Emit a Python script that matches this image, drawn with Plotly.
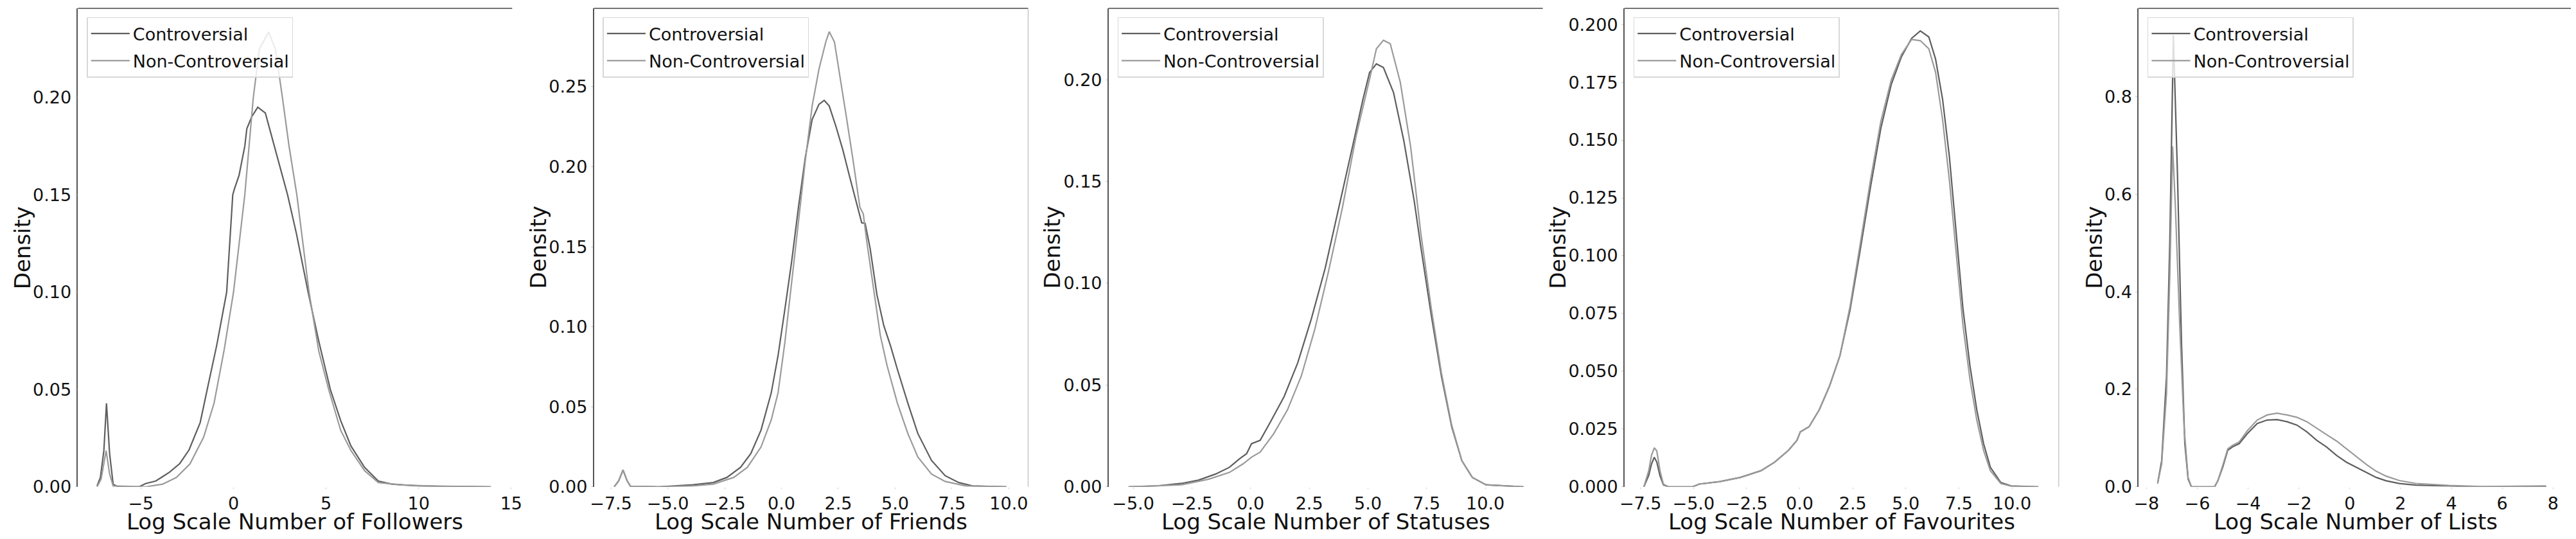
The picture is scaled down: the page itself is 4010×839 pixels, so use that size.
import plotly.graph_objects as go

# Log-scaled user attribute densities
FOLLOWERS_X_C = [-7.37, -7.19, -7.0, -6.86, -6.69, -6.5, -6.23, -5.1, -4.75, -4.2, -3.46, -2.9, -2.4,
                 -1.8, -1.42, -0.9, -0.37, -0.04, 0.05, 0.3, 0.61, 0.72, 0.98, 1.31, 1.72, 2.09, 2.5,
                 2.92, 3.4, 4.03, 4.6, 5.23, 5.79, 6.34, 7.08, 7.82, 8.56, 10.0, 13.9]
FOLLOWERS_Y_C = [0.0005, 0.0048, 0.0187, 0.0429, 0.017, 0.0014, 0, 0, 0.0017, 0.003, 0.0075, 0.012,
                 0.019, 0.033, 0.05, 0.073, 0.10, 0.15, 0.153, 0.16, 0.175, 0.184, 0.19, 0.195, 0.192,
                 0.179, 0.164, 0.15, 0.13, 0.10, 0.075, 0.05, 0.034, 0.021, 0.01, 0.003, 0.0014, 0.0005, 0]
FOLLOWERS_X_N = [-7.37, -7.15, -6.88, -6.69, -6.5, -4.75, -3.83, -3.09, -2.35, -1.61, -1.05, -0.5, 0.0,
                 0.3, 0.61, 1.07, 1.4, 1.9, 2.27, 2.64, 3.0, 3.42, 4.08, 4.6, 5.14, 5.79, 6.34, 7.08,
                 7.82, 9.1, 10.96, 13.9]
FOLLOWERS_Y_N = [0, 0.004, 0.0186, 0.0066, 0.0005, 0, 0.0014, 0.0048, 0.0118, 0.0256, 0.043, 0.0706,
                 0.10, 0.125, 0.15, 0.20, 0.225, 0.2336, 0.2246, 0.20, 0.175, 0.15, 0.10, 0.07, 0.05,
                 0.029, 0.0187, 0.0083, 0.0022, 0.001, 0.0003, 0]

FRIENDS_X_C = [-7.36, -7.16, -6.97, -6.79, -6.64, -5.4, -3.9, -3.0, -2.4, -1.8, -1.35, -0.9, -0.45,
               -0.15, 0.15, 0.45, 0.75, 1.05, 1.35, 1.65, 1.88, 2.1, 2.4, 2.7, 3.0, 3.3, 3.53, 3.68,
               3.9, 4.2, 4.5, 4.8, 5.1, 5.56, 6.0, 6.6, 7.2, 7.8, 8.4, 9.9]
FRIENDS_Y_C = [0, 0.0038, 0.0105, 0.0038, 0.0004, 0, 0.0013, 0.0027, 0.0059, 0.0122, 0.0207, 0.0354,
               0.0587, 0.082, 0.111, 0.141, 0.175, 0.206, 0.2295, 0.239, 0.2415, 0.238, 0.225, 0.2105,
               0.1937, 0.1768, 0.165, 0.1646, 0.149, 0.12, 0.1008, 0.088, 0.0734, 0.0523, 0.0333,
               0.0165, 0.007, 0.0027, 0.0006, 0]
FRIENDS_X_N = [-7.36, -7.16, -6.97, -6.79, -6.64, -5.4, -3.9, -3.0, -2.1, -1.5, -0.9, -0.45, -0.15,
               0.15, 0.45, 0.75, 1.05, 1.35, 1.65, 1.95, 2.1, 2.33, 2.55, 2.85, 3.15, 3.45, 3.6, 3.75,
               4.05, 4.35, 4.65, 5.1, 5.56, 6.0, 6.6, 7.2, 8.1, 9.9]
FRIENDS_Y_N = [0, 0.0038, 0.0105, 0.0038, 0.0004, 0, 0.0006, 0.0017, 0.0059, 0.0122, 0.0249, 0.0418,
               0.0587, 0.0903, 0.128, 0.166, 0.204, 0.238, 0.261, 0.278, 0.2844, 0.278, 0.259, 0.2316,
               0.204, 0.1747, 0.1705, 0.1536, 0.124, 0.0945, 0.0755, 0.0523, 0.0333, 0.0186, 0.008,
               0.0034, 0.0006, 0]

STATUSES_X_C = [-5.2, -3.97, -2.94, -2.22, -1.49, -0.9, -0.47, -0.17, 0.04, 0.41, 0.85, 1.43, 2.01,
                2.59, 3.18, 3.76, 4.34, 4.78, 5.07, 5.36, 5.66, 6.09, 6.53, 6.97, 7.26, 7.7, 8.13,
                8.57, 9.0, 9.45, 10.03, 11.63]
STATUSES_Y_C = [0, 0.0005, 0.0017, 0.0033, 0.0063, 0.0096, 0.0138, 0.0163, 0.0212, 0.0229, 0.032,
                0.0444, 0.061, 0.0826, 0.1075, 0.137, 0.167, 0.19, 0.2036, 0.2078, 0.206, 0.1937,
                0.17, 0.1406, 0.1174, 0.0842, 0.0544, 0.0295, 0.0129, 0.0046, 0.001, 0]
STATUSES_X_N = [-5.2, -2.94, -1.78, -0.9, -0.32, 0.04, 0.41, 0.99, 1.57, 2.16, 2.74, 3.32, 3.91,
                4.49, 5.07, 5.36, 5.66, 5.95, 6.38, 6.82, 7.26, 7.7, 8.13, 8.57, 9.0, 9.45, 10.03, 11.63]
STATUSES_Y_N = [0, 0.001, 0.0038, 0.0071, 0.0113, 0.0146, 0.0171, 0.0262, 0.0378, 0.0544, 0.0776,
                0.1058, 0.137, 0.172, 0.2003, 0.2152, 0.2194, 0.2177, 0.1987, 0.167, 0.124, 0.0876,
                0.056, 0.0303, 0.0129, 0.0046, 0.001, 0]

FAVOURITES_X = [-7.34, -7.11, -6.98, -6.85, -6.73, -6.58, -6.42, -6.18, -5.05, -4.73, -3.76, -2.79,
                -1.82, -1.18, -0.53, -0.13, 0.03, 0.44, 0.92, 1.4, 1.89, 2.37, 2.85, 3.34, 3.82, 4.31,
                4.79, 5.27, 5.68, 6.08, 6.4, 6.73, 7.05, 7.37, 7.69, 8.02, 8.34, 8.66, 8.98, 9.47,
                9.95, 11.24]
FAVOURITES_Y_C = [0, 0.005, 0.0099, 0.0128, 0.0107, 0.0048, 0.0009, 0, 0, 0.0012, 0.0023, 0.0041,
                  0.007, 0.0107, 0.0158, 0.0201, 0.0238, 0.026, 0.0333, 0.0435, 0.0566, 0.0765,
                  0.1025, 0.13, 0.155, 0.174, 0.186, 0.194, 0.1972, 0.1946, 0.185, 0.1676, 0.1428,
                  0.109, 0.077, 0.0523, 0.0333, 0.0187, 0.0085, 0.0019, 0.0004, 0]
FAVOURITES_Y_N = [0, 0.007, 0.0136, 0.0169, 0.0155, 0.007, 0.0012, 0, 0, 0.0012, 0.0023, 0.0041,
                  0.007, 0.0107, 0.0158, 0.0201, 0.0238, 0.026, 0.0333, 0.0435, 0.0566, 0.078,
                  0.105, 0.133, 0.158, 0.176, 0.187, 0.1935, 0.193, 0.1895, 0.1793, 0.1588, 0.1326,
                  0.1004, 0.0698, 0.0464, 0.0289, 0.0158, 0.007, 0.0015, 0.0003, 0]

LISTS_X_C = [-7.56, -7.4, -7.21, -7.08, -6.94, -6.78, -6.62, -6.49, -6.36, -6.23, -5.32, -5.19, -5.0,
             -4.8, -4.61, -4.35, -4.03, -3.64, -3.25, -2.86, -2.47, -2.08, -1.69, -1.3, -0.91, -0.52,
             -0.13, 0.26, 0.65, 1.04, 1.43, 1.95, 2.6, 3.9, 5.19, 7.73]
LISTS_Y_C = [0.007, 0.054, 0.227, 0.504, 0.926, 0.642, 0.296, 0.0886, 0.016, 0, 0, 0.0125, 0.04,
             0.075, 0.082, 0.0886, 0.109, 0.13, 0.137, 0.138, 0.1336, 0.1266, 0.1128, 0.0955, 0.0817,
             0.0644, 0.0505, 0.0401, 0.0298, 0.0194, 0.0125, 0.0069, 0.0035, 0.0014, 0.0, 0]
LISTS_X_N = [-7.56, -7.4, -7.21, -7.08, -6.97, -6.86, -6.69, -6.52, -6.36, -6.23, -5.32, -5.19, -5.0,
             -4.8, -4.61, -4.35, -4.03, -3.64, -3.25, -2.86, -2.47, -2.08, -1.69, -1.3, -0.91, -0.52,
             -0.13, 0.26, 0.65, 1.04, 1.43, 1.95, 2.6, 3.9, 5.19, 7.73]
LISTS_Y_N = [0.007, 0.047, 0.192, 0.435, 0.698, 0.573, 0.331, 0.123, 0.019, 0, 0, 0.0125, 0.0436,
             0.078, 0.085, 0.092, 0.115, 0.137, 0.1474, 0.151, 0.1474, 0.1426, 0.1336, 0.1197, 0.107,
             0.094, 0.078, 0.062, 0.046, 0.032, 0.022, 0.013, 0.007, 0.0028, 0.0007, 0.002]

X_TITLES = ["Log Scale Number of Followers", "Log Scale Number of Friends",
            "Log Scale Number of Statuses", "Log Scale Number of Favourites",
            "Log Scale Number of Lists"]
SERIES_NAMES = ["Controversial", "Non-Controversial"]

panels = [
    (FOLLOWERS_X_C, FOLLOWERS_Y_C, FOLLOWERS_X_N, FOLLOWERS_Y_N),
    (FRIENDS_X_C, FRIENDS_Y_C, FRIENDS_X_N, FRIENDS_Y_N),
    (STATUSES_X_C, STATUSES_Y_C, STATUSES_X_N, STATUSES_Y_N),
    (FAVOURITES_X, FAVOURITES_Y_C, FAVOURITES_X, FAVOURITES_Y_N),
    (LISTS_X_C, LISTS_Y_C, LISTS_X_N, LISTS_Y_N),
]

# layout in pixels of the 4010x839 page
W, H = 4010, 839
LEFTS = [106, 914, 1720, 2528, 3333]
RIGHTS = [786, 1594, 2400, 3208, 4010]
TOP, BOTTOM = 5, 763.5
X_RANGES = [[-8.4, 15.05], [-8.25, 10.85], [-6.05, 12.45], [-8.25, 12.2], [-8.31, 8.7]]
Y_RANGES = [[0, 0.2458], [0, 0.299], [0, 0.2351], [0, 0.207], [0, 0.981]]
X_DTICK = [5, 2.5, 2.5, 2.5, 2]
X_FMT = ["d", ".1f", ".1f", ".1f", "d"]
Y_DTICK = [0.05, 0.05, 0.05, 0.025, 0.2]
Y_FMT = [".2f", ".2f", ".2f", ".3f", ".1f"]
DENSITY_OFFSET = [87, 87, 88, 104, 69]
RIGHT_SPINE = [False, True, False, True, False]

DARK = "#5e5e5e"
LIGHT = "#9a9a9a"
FONT = "DejaVu Sans"

fig = go.Figure()
shapes = []
annotations = []

for i, (xc, yc, xn, yn) in enumerate(panels):
    n = "" if i == 0 else str(i + 1)
    leg = "legend" + n
    fig.add_trace(go.Scatter(x=xc, y=yc, mode="lines", name=SERIES_NAMES[0],
                             line=dict(color=DARK, width=2.2), xaxis="x" + n, yaxis="y" + n,
                             legend=leg, legendgroup="c" + n))
    fig.add_trace(go.Scatter(x=xn, y=yn, mode="lines", name=SERIES_NAMES[1],
                             line=dict(color=LIGHT, width=2.2), xaxis="x" + n, yaxis="y" + n,
                             legend=leg, legendgroup="n" + n))

    xdom = [LEFTS[i] / W, RIGHTS[i] / W]
    ydom = [(H - BOTTOM) / H, (H - TOP) / H]
    fig.update_layout(**{
        "xaxis" + n: dict(domain=xdom, range=X_RANGES[i], anchor="y" + n, dtick=X_DTICK[i],
                          tick0=0, tickformat=X_FMT[i], showgrid=False, zeroline=False,
                          showline=False, ticks="outside", ticklen=2, tickcolor="#c8c8c8",
                          tickfont=dict(family=FONT, size=27, color="#111")),
        "yaxis" + n: dict(domain=ydom, range=Y_RANGES[i], anchor="x" + n, dtick=Y_DTICK[i],
                          tick0=0, tickformat=Y_FMT[i], showgrid=False, zeroline=False,
                          showline=True, linecolor="#555", linewidth=1.5, ticks="outside",
                          ticklen=3, tickcolor="#c8c8c8",
                          tickfont=dict(family=FONT, size=27, color="#111")),
        leg: dict(x=(LEFTS[i] + 14) / W, y=(H - 19) / H, xanchor="left", yanchor="top",
                  bgcolor="rgba(255,255,255,0.8)", bordercolor="#d8d8d8", borderwidth=1.5,
                  font=dict(family=FONT, size=27, color="#111"), itemwidth=60,
                  tracegroupgap=4),
    })

    # top spine, and faint right spine where the reference shows one
    shapes.append(dict(type="line", xref="x" + n + " domain", yref="y" + n + " domain",
                       x0=0, x1=1, y0=1, y1=1, line=dict(color="#444", width=1.5)))
    if RIGHT_SPINE[i]:
        shapes.append(dict(type="line", xref="x" + n + " domain", yref="y" + n + " domain",
                           x0=1, x1=1, y0=0, y1=1, line=dict(color="#bbb", width=1.2)))

    annotations.append(dict(text=X_TITLES[i], xref="paper", yref="paper",
                            x=(LEFTS[i] + 340) / W, y=(H - 819) / H, xanchor="center",
                            yanchor="middle", showarrow=False,
                            font=dict(family=FONT, size=34, color="#111")))
    annotations.append(dict(text="Density", xref="paper", yref="paper", textangle=-90,
                            x=(LEFTS[i] - DENSITY_OFFSET[i]) / W, y=(H - (TOP + BOTTOM) / 2) / H,
                            xanchor="center", yanchor="middle", showarrow=False,
                            font=dict(family=FONT, size=34, color="#111")))

fig.update_layout(
    width=W, height=H,
    margin=dict(l=0, r=0, t=0, b=0),
    plot_bgcolor="white", paper_bgcolor="white",
    showlegend=True,
    shapes=shapes,
    annotations=annotations,
)

fig.write_html("out.html")
